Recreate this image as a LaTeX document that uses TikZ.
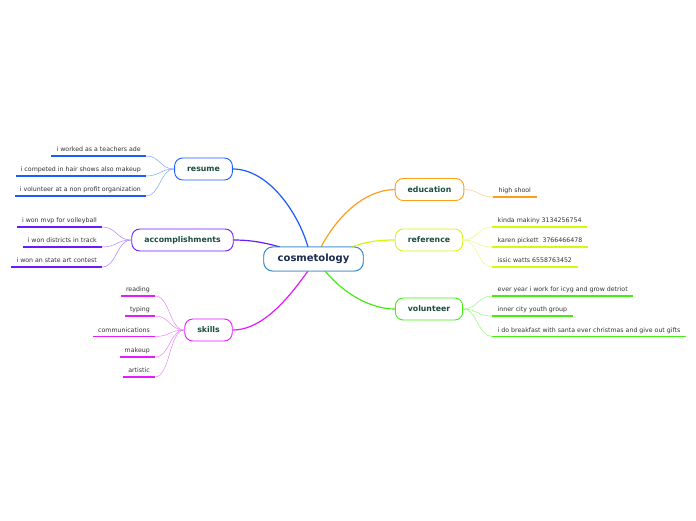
\documentclass[tikz,border=0pt]{standalone}
\usepackage{fontspec}
\setmainfont{DejaVu Sans}
\begin{document}
\begin{tikzpicture}[x=1pt,y=-1pt,
  central/.style={draw=cCen,line width=0.9pt,rounded corners=9pt,minimum height=24pt,inner xsep=14pt,font=\fontsize{10}{12}\selectfont\bfseries,text=cCenT,fill=white},
  mainnode/.style={draw=#1,line width=0.9pt,rounded corners=8pt,minimum height=22pt,inner xsep=12.5pt,font=\fontsize{7.8}{9}\selectfont\bfseries,text=cMainT,fill=white},
  leafL/.style={anchor=south east,inner xsep=5pt,inner ysep=2.6pt,font=\fontsize{6.25}{7}\selectfont,text=cLeafT,text height=4.6pt,text depth=1.3pt},
  leafR/.style={anchor=south west,inner xsep=5.5pt,inner ysep=2.6pt,font=\fontsize{6.25}{7}\selectfont,text=cLeafT,text height=4.6pt,text depth=1.3pt},
  uline/.style={draw=#1,line width=1.7pt},
  sub/.style={draw=#1!55,line width=0.5pt},
  br/.style={draw=#1,line width=1.2pt}
]
\definecolor{cCen}{HTML}{3D8BCF}
\definecolor{cCenT}{HTML}{1A2A50}
\definecolor{cMainT}{HTML}{1B4D3E}
\definecolor{cLeafT}{HTML}{333333}
\definecolor{cRes}{HTML}{1A5CFF}
\definecolor{cAcc}{HTML}{6B1AFF}
\definecolor{cSki}{HTML}{E41AFF}
\definecolor{cEdu}{HTML}{FF9E1A}
\definecolor{cRef}{HTML}{D2FA10}
\definecolor{cVol}{HTML}{44EE11}
\useasboundingbox[fill=white] (0,0) rectangle (696,520);

% main connector end points at the central node
\coordinate (pRes) at (308,247);
\coordinate (pAcc) at (280,247);
\coordinate (pSki) at (308,271);
\coordinate (pEdu) at (321,247);
\coordinate (pRef) at (352,247);
\coordinate (pVol) at (325,271);

% nodes
\node[central] (cen) at (313.5,259) {cosmetology};
\node[mainnode=cRes] (res) at (203.5,169) {resume};
\node[mainnode=cAcc] (acc) at (182.5,240) {accomplishments};
\node[mainnode=cSki] (ski) at (208.5,330) {skills};
\node[mainnode=cEdu] (edu) at (429.5,189.5) {education};
\node[mainnode=cRef] (ref) at (429,240) {reference};
\node[mainnode=cVol] (vol) at (429,309) {volunteer};

\draw[br=cRes] (res.east) .. controls (268,169) and (298,212) .. (pRes);
\draw[br=cAcc] (acc.east) .. controls (252,240) and (266,243) .. (pAcc);
\draw[br=cSki] (ski.east) .. controls (266,330) and (294,290) .. (pSki);
\draw[br=cEdu] (edu.west) .. controls (365,190) and (338,215) .. (pEdu);
\draw[br=cRef] (ref.west) .. controls (378,240) and (364,242) .. (pRef);
\draw[br=cVol] (vol.west) .. controls (372,309) and (345,295) .. (pVol);
\node[central] at (cen) {cosmetology};

% resume leaves
\node[leafL] (r1) at (146,156) {i worked as a teachers ade};
\node[leafL] (r2) at (146,176) {i competed in hair shows also makeup};
\node[leafL] (r3) at (146,196) {i volunteer at a non profit organization};
% accomplishments leaves
\node[leafL] (a1) at (102,227) {i won mvp for volleyball};
\node[leafL] (a2) at (102,247) {i won districts in track};
\node[leafL] (a3) at (102,267) {i won an state art contest};
% skills leaves
\node[leafL] (s1) at (155,296) {reading};
\node[leafL] (s2) at (155,316) {typing};
\node[leafL] (s3) at (155,336.5) {communications};
\node[leafL] (s4) at (155,357) {makeup};
\node[leafL] (s5) at (155,377) {artistic};
% education leaf
\node[leafR] (e1) at (493,197) {high shool};
% reference leaves
\node[leafR] (f1) at (492,227) {kinda makiny 3134256754};
\node[leafR] (f2) at (492,247) {karen pickett\ \ 3766466478};
\node[leafR] (f3) at (492,267) {issic watts 6558763452};
% volunteer leaves
\node[leafR] (v1) at (492,296) {ever year i work for icyg and grow detriot};
\node[leafR] (v2) at (492,316) {inner city youth group};
\node[leafR] (v3) at (492,336.5) {i do breakfast with santa ever christmas and give out gifts};

% underlines
\foreach \n in {r1,r2,r3} \draw[uline=cRes] (\n.south west) -- (\n.south east);
\foreach \n in {a1,a2,a3} \draw[uline=cAcc] (\n.south west) -- (\n.south east);
\foreach \n in {s1,s2,s3,s4,s5} \draw[uline=cSki] (\n.south west) -- (\n.south east);
\foreach \n in {e1} \draw[uline=cEdu] (\n.south west) -- (\n.south east);
\foreach \n in {f1,f2,f3} \draw[uline=cRef] (\n.south west) -- (\n.south east);
\foreach \n in {v1,v2,v3} \draw[uline=cVol] (\n.south west) -- (\n.south east);

% leaf connectors
\foreach \n in {r1,r2,r3} \draw[sub=cRes] (\n.south east) .. controls +(14,0) and +(-14,0) .. (res.west);
\foreach \n in {a1,a2,a3} \draw[sub=cAcc] (\n.south east) .. controls +(15,0) and +(-15,0) .. (acc.west);
\foreach \n in {s1,s2,s3,s4,s5} \draw[sub=cSki] (\n.south east) .. controls +(15,0) and +(-15,0) .. (ski.west);
\foreach \n in {e1} \draw[sub=cEdu] (\n.south west) .. controls +(-14,0) and +(14,0) .. (edu.east);
\foreach \n in {f1,f2,f3} \draw[sub=cRef] (\n.south west) .. controls +(-14,0) and +(14,0) .. (ref.east);
\foreach \n in {v1,v2,v3} \draw[sub=cVol] (\n.south west) .. controls +(-14,0) and +(14,0) .. (vol.east);
\end{tikzpicture}
\end{document}
